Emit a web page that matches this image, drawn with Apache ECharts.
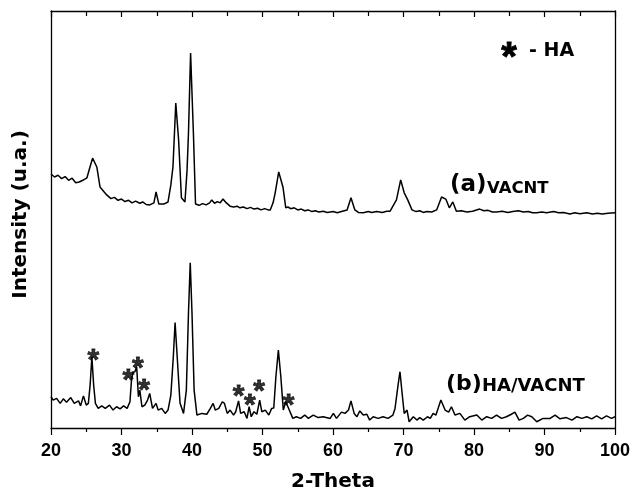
<!DOCTYPE html>
<html><head><meta charset="utf-8">
<script src="https://cdn.jsdelivr.net/npm/echarts@6/dist/echarts.min.js"></script>
<style>html,body{margin:0;padding:0;background:#fff}#c{width:632px;height:492px}</style>
</head><body><div id="c"></div>
<script>
// Axis ticks
const xMin = 20, xMax = 100, xStep = 10;
const xTickLabels = [20, 30, 40, 50, 60, 70, 80, 90, 100];

// (a) VACNT
const thetaA = [20,20.5,21,21.5,22,22.5,23,23.5,24,24.5,25.1,25.5,25.9,26.5,26.95,27.9,28.5,29,29.5,30,30.5,31,31.5,32,32.6,33,33.5,34,34.6,34.9,35.3,36,36.6,37,37.3,37.7,38.1,38.5,39,39.3,39.5,39.8,40.2,40.5,41,41.5,42,42.5,42.8,43.2,43.6,44,44.4,44.8,45.4,45.9,46.4,46.8,47.3,47.8,48.3,48.8,49.3,49.8,50.3,50.8,51.1,51.5,51.8,52.3,52.9,53.3,53.6,54,54.5,55,55.5,56,56.5,57,57.5,58,58.6,59.2,60,60.6,61.2,62,62.55,63.1,63.6,64.3,65,65.5,66.2,67,67.6,68.1,69,69.6,70.1,70.6,71.2,71.8,72.3,72.8,73.3,74,74.7,75.4,76,76.5,77,77.5,78.2,79,79.8,80.8,81.4,82,82.6,83.2,84,84.8,85.5,86.3,87,87.7,88.3,88.9,89.6,90.3,91.3,92,92.7,93.6,94.3,95,96,96.8,97.5,98.2,99,100];
const intensityA = [60.9,60.2,60.6,59.8,60.3,59.4,59.9,58.8,59.0,59.4,60.0,62.4,64.7,62.6,57.8,55.9,55.0,55.3,54.6,54.9,54.3,54.6,54.0,54.4,53.9,54.2,53.6,53.5,54.0,56.6,53.7,53.7,54.2,58.3,62.6,77.9,69.1,55.2,54.2,61.9,70.7,89.9,70.7,53.7,53.4,53.8,53.5,54.0,54.7,53.9,54.3,54.0,54.9,54.1,53.2,53.0,53.2,52.8,53.0,52.6,52.9,52.5,52.7,52.3,52.6,52.3,52.3,54.0,56.4,61.4,57.8,52.8,53.0,52.6,52.8,52.3,52.5,52.1,52.3,51.9,52.1,51.8,52.0,51.7,51.9,51.6,51.9,52.3,55.2,52.3,51.7,51.6,51.9,51.7,51.9,51.7,52.0,52.0,54.7,59.5,56.4,54.7,52.3,51.9,52.1,51.7,51.9,51.8,52.3,55.4,54.9,52.8,54.2,52.0,52.1,51.8,52.0,52.5,52.1,52.2,51.8,51.8,52.0,51.7,51.9,52.1,51.8,51.9,51.6,51.6,51.8,51.6,51.9,51.6,51.7,51.3,51.6,51.4,51.6,51.3,51.5,51.3,51.5,51.6];

// (b) HA/VACNT
const thetaB = [20,20.3,20.8,21.3,21.75,22.2,22.8,23.3,23.9,24.2,24.6,25,25.3,25.55,25.8,26.05,26.3,26.7,27.2,27.7,28.3,28.8,29.3,29.8,30.3,30.8,31.2,31.4,31.6,31.9,32.15,32.4,32.6,32.9,33.3,33.7,34,34.4,34.9,35.2,35.7,36.2,36.6,37,37.35,37.6,37.9,38.3,38.8,39.2,39.5,39.75,40,40.3,40.7,41.4,42.1,42.6,43,43.3,43.8,44.3,44.6,45,45.4,45.9,46.2,46.6,46.9,47.4,47.8,48.1,48.4,48.8,49.2,49.6,49.9,50.4,50.9,51.3,51.6,51.9,52.25,52.6,52.95,53.3,53.8,54.3,54.8,55.4,56,56.5,57.2,57.9,58.6,59.6,60.05,60.5,61.2,61.7,62.2,62.55,63,63.4,63.8,64.3,64.8,65.2,65.7,66.4,67.1,67.8,68.5,68.8,69.2,69.5,69.8,70.1,70.5,70.8,71.4,71.9,72.3,72.8,73.4,73.8,74.2,74.6,75.3,75.9,76.4,76.8,77.3,78,78.7,79.4,80.4,81.1,81.8,82.5,83.2,83.9,84.6,85.3,85.8,86.4,87,87.6,88.2,88.9,89.8,90.8,91.5,92.2,93.1,93.9,94.6,95.3,96,96.7,97.4,98.1,98.8,99.5,100];
const intensityB = [7.5,6.7,7.1,5.9,7.0,6.2,7.3,5.9,6.5,5.3,7.7,5.5,5.9,10.3,17.1,10.3,5.9,4.7,5.3,4.7,5.5,4.3,5.1,4.6,5.3,4.7,6.3,11.1,13.2,13.5,14.7,7.5,9.1,5.1,5.5,6.7,8.3,4.7,5.9,4.3,4.7,3.5,4.3,7.9,17.1,25.3,17.1,6.0,3.5,9.1,27.6,39.6,27.6,9.1,3.1,3.5,3.3,4.7,5.9,4.3,4.7,6.3,5.9,3.5,4.3,3.1,3.9,6.5,3.5,3.9,2.3,5.1,2.7,3.9,3.3,6.7,3.9,4.3,3.1,4.7,4.8,12.3,18.7,12.3,4.3,6.3,4.3,2.3,2.7,2.3,3.1,2.3,3.1,2.5,2.7,2.3,3.5,2.3,3.8,3.5,4.3,6.5,3.5,2.7,4.1,3.1,3.3,1.9,2.7,2.3,2.7,2.3,3.1,4.7,9.9,13.5,8.4,3.5,4.3,1.5,2.7,1.9,2.5,1.9,2.7,2.3,3.5,3.1,6.7,4.3,3.8,5.1,3.1,3.5,1.9,2.7,3.1,1.9,2.7,2.3,3.1,2.3,2.7,3.3,3.8,1.9,2.3,3.1,2.7,1.5,2.3,2.3,3.1,2.2,2.5,1.9,2.7,2.3,2.7,2.2,2.9,2.2,2.9,2.3,2.7];

// HA reflections marked with *
const starTheta = [26.0, 30.96, 32.3, 33.2, 46.6, 48.2, 49.5, 53.7];
const starIntensity = [17.7, 13.1, 15.9, 10.5, 9.1, 6.9, 10.3, 7.1];

const FONT = '"DejaVu Sans", sans-serif';
const ARIAL = '"Liberation Sans", Arial, sans-serif';
const zip = (xs, ys) => xs.map((x, i) => [x, ys[i]]);

const chart = echarts.init(document.getElementById('c'), null, {renderer: 'canvas'});
const axisBase = {
  type: 'value', min: xMin, max: xMax, interval: xStep,
  axisLine: {show: true, onZero: false, lineStyle: {color: '#000', width: 1.3}},
  splitLine: {show: false}
};
chart.setOption({
  animation: false,
  backgroundColor: '#fff',
  grid: {left: 51, right: 17, top: 11, bottom: 64, containLabel: false, outerBoundsMode: 'none'},
  xAxis: [
    Object.assign({}, axisBase, {
      position: 'bottom',
      name: '2-Theta', nameLocation: 'middle', nameGap: 44,
      nameTextStyle: {fontFamily: FONT, fontWeight: 'bold', fontSize: 20, color: '#000'},
      axisTick: {show: true, inside: false, length: 7, lineStyle: {color: '#000', width: 1.2}},
      minorTick: {show: true, splitNumber: 2, length: 4, lineStyle: {color: '#000', width: 1.2}},
      axisLabel: {show: true, margin: 14, fontFamily: ARIAL, fontWeight: 'bold', fontSize: 18, color: '#000',
        formatter: v => xTickLabels.includes(v) ? String(v) : ''}
    }),
    Object.assign({}, axisBase, {
      position: 'top',
      axisTick: {show: true, inside: true, length: 6, lineStyle: {color: '#000', width: 1.2}},
      minorTick: {show: true, splitNumber: 2, length: 5, lineStyle: {color: '#000', width: 1.2}},
      axisLabel: {show: false}
    })
  ],
  yAxis: [
    {type: 'value', min: 0, max: 100, position: 'left',
     name: 'Intensity (u.a.)', nameLocation: 'middle', nameGap: 20,
     nameTextStyle: {fontFamily: FONT, fontWeight: 'bold', fontSize: 20, color: '#000', padding: [0, 0, 0, 10]},
     axisLine: {show: true, onZero: false, lineStyle: {color: '#000', width: 1.3}},
     axisTick: {show: false}, axisLabel: {show: false}, splitLine: {show: false}},
    {type: 'value', min: 0, max: 100, position: 'right',
     axisLine: {show: true, onZero: false, lineStyle: {color: '#000', width: 1.3}},
     axisTick: {show: false}, axisLabel: {show: false}, splitLine: {show: false}}
  ],
  series: [
    {name: 'VACNT', type: 'line', data: zip(thetaA, intensityA), showSymbol: false, symbol: 'none',
     lineStyle: {color: '#000', width: 1.5}, z: 3},
    {name: 'HA/VACNT', type: 'line', data: zip(thetaB, intensityB), showSymbol: false, symbol: 'none',
     lineStyle: {color: '#000', width: 1.5}, z: 3},
    {name: 'HA', type: 'scatter', data: zip(starTheta, starIntensity), symbol: 'circle', symbolSize: 1,
     itemStyle: {color: 'rgba(0,0,0,0)'}, z: 4,
     label: {show: true, position: 'inside', formatter: '*', fontFamily: ARIAL, fontWeight: 'bold',
       fontSize: 30, color: '#000', textBorderColor: '#000', textBorderWidth: 0.8, offset: [0, 7]}}
  ],
  graphic: [
    {type: 'text', x: 509, y: 59, style: {text: '*', font: 'bold 40px ' + ARIAL, fill: '#000', stroke: '#000', lineWidth: 0.8, align: 'center', verticalAlign: 'middle'}},
    {type: 'text', left: 529, top: 42, style: {text: '- HA', font: 'bold 19px ' + FONT, fill: '#000'}},
    {type: 'text', left: 450, top: 174, style: {text: '(a)', font: 'bold 23px ' + FONT, fill: '#000'}},
    {type: 'text', left: 487, top: 180, style: {text: 'VACNT', font: 'bold 16.5px ' + FONT, fill: '#000'}},
    {type: 'text', left: 446, top: 373, style: {text: '(b)', font: 'bold 22px ' + FONT, fill: '#000'}},
    {type: 'text', left: 482, top: 377, style: {text: 'HA/VACNT', font: 'bold 18px ' + FONT, fill: '#000'}}
  ]
});
</script>
</body></html>
